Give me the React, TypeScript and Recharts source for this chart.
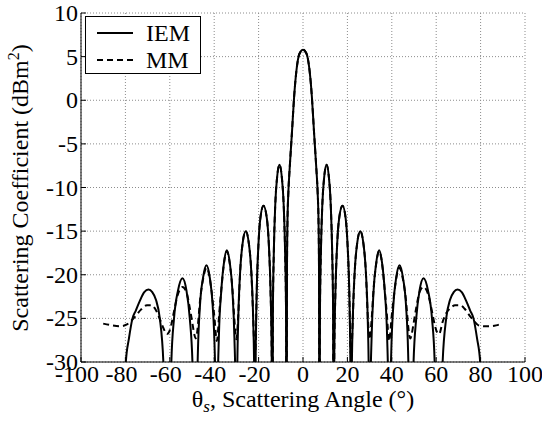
import { LineChart, Line, XAxis, YAxis, CartesianGrid } from "recharts"

const FONT = '"Liberation Serif", "Times New Roman", serif'
const FS = 24

const xTicks = [-100, -80, -60, -40, -20, 0, 20, 40, 60, 80, 100]
const yTicks = [-30, -25, -20, -15, -10, -5, 0, 5, 10]

// IEM (solid), nulls pushed below the axis floor
const iemAngle = [
  -80.5, -79.8, -78.4, -76.8, -75.3, -73.5, -71.5, -69.6, -67.9, -66.2, -64.5, -62.9, -62.2, -61.5,
  -60.4, -59.9, -59.3, -58.1, -56.3, -54.3, -52.5, -51.0, -49.8, -49.1, -48.4,
  -47.9, -47.35, -46.4, -45.0, -43.5, -42.0, -40.7, -39.75, -39.2, -38.8,
  -38.45, -37.9, -36.8, -35.6, -34.3, -33.0, -31.8, -30.9, -30.35, -30.0,
  -29.65, -29.15, -28.3, -27.2, -25.8, -24.4, -23.3, -22.45, -21.95, -21.6,
  -21.3, -20.85, -20.1, -19.2, -17.8, -16.3, -15.35, -14.6, -14.1, -13.8,
  -13.55, -13.15, -12.5, -11.65, -10.6, -9.55, -8.7, -8.05, -7.65, -7.4,
  -7.2, -7.0, -6.6, -6, -5, -4, -3, -2, -1, 0, 1, 2, 3, 4, 5, 6, 6.6, 7.0, 7.2,
  7.4, 7.65, 8.05, 8.7, 9.55, 10.6, 11.65, 12.5, 13.15, 13.55,
  13.8, 14.1, 14.6, 15.35, 16.3, 17.8, 19.2, 20.1, 20.85, 21.3,
  21.6, 21.95, 22.45, 23.3, 24.4, 25.8, 27.2, 28.3, 29.15, 29.65,
  30.0, 30.35, 30.9, 31.8, 33.0, 34.3, 35.6, 36.8, 37.9, 38.45,
  38.8, 39.2, 39.75, 40.7, 42.0, 43.5, 45.0, 46.4, 47.35, 47.9,
  48.4, 49.1, 49.8, 51.0, 52.5, 54.3, 56.3, 58.1, 59.3, 59.9, 60.4,
  61.5, 62.2, 62.9, 64.5, 66.2, 67.9, 69.6, 71.5, 73.5, 75.3, 76.8, 78.4, 79.8, 80.5,
]
const iemDb = [
  -34, -30, -27.3, -25.0, -24.1, -23.0, -22.0, -21.7, -22.0, -22.9, -25.0, -30, -35, -50,
  -50, -37, -30, -25, -21.8, -20.4, -21.8, -25, -30, -37, -50,
  -36, -28.9, -23.5, -20.3, -18.9, -20.3, -23.5, -28.9, -36, -50,
  -34, -27.2, -21.8, -18.6, -17.2, -18.6, -21.8, -27.2, -34, -50,
  -32, -25, -19.6, -16.4, -15.0, -16.4, -19.6, -25, -32, -50,
  -29, -22, -16.7, -13.5, -12.1, -13.5, -16.7, -22, -29, -50,
  -24, -17.5, -12.0, -8.8, -7.4, -8.8, -12.0, -17.5, -24, -50,
  -19, -14, -10.6, -7.8, -3.8, 0.4, 3.3, 5.0, 5.6, 5.8, 5.6, 5.0, 3.3, 0.4, -3.8, -7.8, -10.6, -14, -19,
  -50, -24, -17.5, -12.0, -8.8, -7.4, -8.8, -12.0, -17.5, -24,
  -50, -29, -22, -16.7, -13.5, -12.1, -13.5, -16.7, -22, -29,
  -50, -32, -25, -19.6, -16.4, -15.0, -16.4, -19.6, -25, -32,
  -50, -34, -27.2, -21.8, -18.6, -17.2, -18.6, -21.8, -27.2, -34,
  -50, -36, -28.9, -23.5, -20.3, -18.9, -20.3, -23.5, -28.9, -36,
  -50, -37, -30, -25, -21.8, -20.4, -21.8, -25, -30, -37, -50,
  -50, -35, -30, -25.0, -22.9, -22.0, -21.7, -22.0, -23.0, -24.1, -25.0, -27.3, -30, -34,
]

// MM (dashed)
const mmAngle = [
  -90, -86, -82.3, -79.3, -77.5, -75.6, -73, -70.3, -68, -66.6, -64.3, -62.9, -61.3, -60.4,
  -59.3, -58.1, -56.3, -54.3, -52.5, -51.0, -49.8, -48.9, -48.4,
  -47.9, -47.35, -46.4, -45.0, -43.5, -42.0, -40.7, -39.75, -39.2, -38.8,
  -38.45, -37.9, -36.8, -35.6, -34.3, -33.0, -31.8, -30.9, -30.35, -30.0,
  -29.65, -29.15, -28.3, -27.2, -25.8, -24.4, -23.3, -22.45, -21.95, -21.6,
  -21.3, -20.85, -20.1, -19.2, -17.8, -16.3, -15.35, -14.6, -14.1, -13.8,
  -13.55, -13.15, -12.5, -11.65, -10.6, -9.55, -8.7, -8.05, -7.65, -7.4,
  -7.2, -7.0, -6.6, -6, -5, -4, -3, -2, -1, 0, 1, 2, 3, 4, 5, 6, 6.6, 7.0, 7.2,
  7.4, 7.65, 8.05, 8.7, 9.55, 10.6, 11.65, 12.5, 13.15, 13.55,
  13.8, 14.1, 14.6, 15.35, 16.3, 17.8, 19.2, 20.1, 20.85, 21.3,
  21.6, 21.95, 22.45, 23.3, 24.4, 25.8, 27.2, 28.3, 29.15, 29.65,
  30.0, 30.35, 30.9, 31.8, 33.0, 34.3, 35.6, 36.8, 37.9, 38.45,
  38.8, 39.2, 39.75, 40.7, 42.0, 43.5, 45.0, 46.4, 47.35, 47.9,
  48.4, 48.9, 49.8, 51.0, 52.5, 54.3, 56.3, 58.1, 59.3,
  60.4, 61.3, 62.9, 64.5, 66.5, 68.5, 70.8, 72.8, 74.8, 77, 79.1, 81.5, 84.3, 87, 89.6,
]
const mmDb = [
  -25.6, -25.8, -25.9, -25.7, -25.3, -24.8, -24.0, -23.5, -23.5, -23.9, -25.2, -26.1, -26.8, -26.6,
  -25.7, -24.2, -22.2, -21.4, -22.0, -23.8, -25.6, -26.9, -27.3,
  -27.0, -25.8, -23.0, -20.5, -19.2, -20.4, -23.0, -25.3, -27.0, -27.6,
  -27.0, -25.0, -21.7, -18.7, -17.3, -18.7, -21.6, -25.2, -26.8, -27.4,
  -26.6, -24.6, -19.6, -16.4, -15.0, -16.4, -19.6, -24.8, -28.2, -29.2,
  -27.8, -22, -16.7, -13.5, -12.1, -13.5, -16.7, -22, -29, -50,
  -24, -17.5, -12.0, -8.8, -7.4, -8.8, -12.0, -17.5, -24, -50,
  -19, -14, -10.6, -7.8, -3.8, 0.4, 3.3, 5.0, 5.6, 5.8, 5.6, 5.0, 3.3, 0.4, -3.8, -7.8, -10.6, -14, -19,
  -50, -24, -17.5, -12.0, -8.8, -7.4, -8.8, -12.0, -17.5, -24,
  -50, -29, -22, -16.7, -13.5, -12.1, -13.5, -16.7, -22, -27.8,
  -29.2, -28.2, -24.8, -19.6, -16.4, -15.0, -16.4, -19.6, -24.6, -26.6,
  -27.4, -26.8, -25.2, -21.6, -18.7, -17.3, -18.7, -21.7, -25.0, -27.0,
  -27.6, -27.0, -25.3, -23.0, -20.4, -19.2, -20.5, -23.0, -25.8, -27.0,
  -27.3, -26.9, -25.6, -23.8, -22.0, -21.4, -22.2, -24.2, -25.7,
  -26.6, -26.8, -25.4, -24.4, -23.8, -23.5, -23.5, -23.9, -24.6, -25.3, -25.8, -25.9, -25.9, -25.8, -25.6,
]

const iem = iemAngle.map((x, i) => ({ x, y: iemDb[i] }))
const mm = mmAngle.map((x, i) => ({ x, y: mmDb[i] }))

function BottomTick({ x, y, payload }: any) {
  const v = payload.value
  return (
    <g>
      <line x1={x} y1={y} x2={x} y2={y - 5} stroke="#000" />
      <text x={v < 0 ? x - 4 : x} y={y + 20} textAnchor="middle" fontSize={FS} fontFamily={FONT} fill="#000">
        {v}
      </text>
    </g>
  )
}

function TopTick({ x, y }: any) {
  return <line x1={x} y1={y} x2={x} y2={y + 5} stroke="#000" />
}

function LeftTick({ x, y, payload }: any) {
  return (
    <g>
      <line x1={x} y1={y} x2={x + 5} y2={y} stroke="#000" />
      <text x={x - 3} y={y + 8} textAnchor="end" fontSize={FS} fontFamily={FONT} fill="#000">
        {payload.value}
      </text>
    </g>
  )
}

function RightTick({ x, y }: any) {
  return <line x1={x} y1={y} x2={x - 5} y2={y} stroke="#000" />
}

export default function App() {
  return (
    <div style={{ position: "absolute", left: 0, top: 0, width: 542, height: 426, background: "#fff" }}>
      <LineChart width={542} height={426} margin={{ top: 13, right: 17, bottom: 0, left: 0 }}>
        <CartesianGrid
          xAxisId="bottom"
          yAxisId="left"
          stroke="#8c8c8c"
          strokeDasharray="1 2"
        />
        <XAxis
          xAxisId="bottom"
          dataKey="x"
          type="number"
          domain={[-100, 100]}
          ticks={xTicks}
          height={64}
          tickSize={0}
          tickMargin={0}
          tickLine={false}
          tick={<BottomTick />}
          axisLine={{ stroke: "#000" }}
          label={{
            content: () => (
              <text x={303} y={407} textAnchor="middle" fontSize={FS} fontFamily={FONT} fill="#000">
                θ<tspan dy={5} fontSize={17} fontStyle="italic">s</tspan>
                <tspan dy={-5}>, Scattering Angle (°)</tspan>
              </text>
            ),
          }}
        />
        <XAxis
          xAxisId="top"
          orientation="top"
          dataKey="x"
          type="number"
          domain={[-100, 100]}
          ticks={xTicks}
          height={0}
          tickSize={0}
          tickMargin={0}
          tickLine={false}
          tick={<TopTick />}
          axisLine={{ stroke: "#000" }}
        />
        <YAxis
          yAxisId="left"
          type="number"
          domain={[-30, 10]}
          ticks={yTicks}
          allowDataOverflow
          width={81}
          tickSize={0}
          tickMargin={0}
          tickLine={false}
          tick={<LeftTick />}
          axisLine={{ stroke: "#000" }}
          label={{
            content: () => (
              <text
                transform="translate(28 188) rotate(-90)"
                textAnchor="middle"
                fontSize={FS}
                fontFamily={FONT}
                fill="#000"
              >
                Scattering Coefficient (dBm<tspan dy={-9} fontSize={16}>2</tspan>
                <tspan dy={9}>)</tspan>
              </text>
            ),
          }}
        />
        <YAxis
          yAxisId="right"
          orientation="right"
          type="number"
          domain={[-30, 10]}
          ticks={yTicks}
          allowDataOverflow
          width={0}
          tickSize={0}
          tickMargin={0}
          tickLine={false}
          tick={<RightTick />}
          axisLine={{ stroke: "#000" }}
        />
        <Line
          data={iem}
          dataKey="y"
          xAxisId="bottom"
          yAxisId="left"
          type="monotone"
          stroke="#000"
          strokeWidth={2}
          dot={false}
          isAnimationActive={false}
        />
        <Line
          data={mm}
          dataKey="y"
          xAxisId="bottom"
          yAxisId="left"
          type="monotone"
          stroke="#000"
          strokeWidth={2}
          strokeDasharray="6 4"
          dot={false}
          isAnimationActive={false}
        />
      </LineChart>
      <div
        style={{
          position: "absolute",
          left: 85,
          top: 16,
          width: 116,
          height: 58,
          boxSizing: "border-box",
          border: "1px solid #000",
          background: "#fff",
        }}
      >
        <svg width={114} height={56} style={{ display: "block" }}>
          <line x1={11} y1={16} x2={47} y2={16} stroke="#000" strokeWidth={2} />
          <text x={60} y={24} fontSize={FS} fontFamily={FONT} fill="#000">IEM</text>
          <line x1={11} y1={43} x2={47} y2={43} stroke="#000" strokeWidth={2} strokeDasharray="6 4" />
          <text x={60} y={51} fontSize={FS} fontFamily={FONT} fill="#000">MM</text>
        </svg>
      </div>
    </div>
  )
}
